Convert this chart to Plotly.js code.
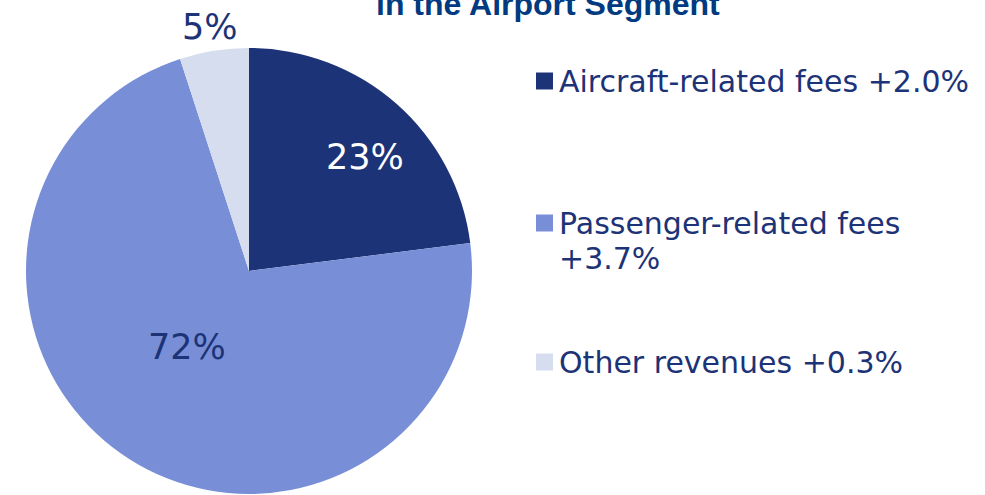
<!DOCTYPE html>
<html>
<head>
<meta charset="utf-8">
<script src="https://cdn.plot.ly/plotly-3.0.1.min.js"></script>
<style>
html,body{margin:0;padding:0;overflow:hidden;background:#fff;}
#chart{width:985px;height:499px;}
</style>
</head>
<body>
<div id="chart"></div>
<script>
const categories = ["Aircraft-related fees", "Passenger-related fees", "Other revenues"];
const shares = [23, 72, 5];
const changes = ["+2.0%", "+3.7%", "+0.3%"];
const sliceLabels = ["23%", "72%", "5%"];
const colors = ["#1d3377", "#788fd7", "#d5ddee"];
const labelColors = ["#ffffff", "#1d3377", "#1d3377"];
const textColor = "#1d3377";
const titleText = "in the Airport Segment";

const W = 985, H = 499;
const px = x => x / W;
const py = y => (H - y) / H;

// pie geometry (pixels)
const CX = 249, CY = 271, R = 223;

const trace = {
  type: "pie",
  labels: categories,
  values: shares,
  textinfo: "none",
  sort: false,
  direction: "clockwise",
  rotation: 0,
  marker: {colors: colors, line: {width: 0}},
  domain: {x: [px(CX - R), px(CX + R)], y: [py(CY + R), py(CY - R)]},
  showlegend: false,
  hoverinfo: "label+percent"
};

const shapes = [];
const annotations = [];

// slice labels placed from the data's mid angles
const labelRadius = [0.73, 0.44, 1.11];
const labelAngleShift = [4, 7, 0];
const total = shares.reduce((a, b) => a + b, 0);
let cum = 0;
for (let i = 0; i < shares.length; i++) {
  const mid = (cum + shares[i] / 2) / total * 360 + labelAngleShift[i];
  cum += shares[i];
  const a = mid * Math.PI / 180;
  const r = R * labelRadius[i];
  annotations.push({
    xref: "paper", yref: "paper",
    x: px(CX + r * Math.sin(a)), y: py(CY - r * Math.cos(a)),
    xanchor: "center", yanchor: "middle",
    text: sliceLabels[i], showarrow: false,
    font: {family: "DejaVu Sans", size: 35, color: labelColors[i]}
  });
}

// custom legend
const legendY = [81, 223, 362];
const legendLines = [
  [categories[0] + " " + changes[0]],
  [categories[1], changes[1]],
  [categories[2] + " " + changes[2]]
];
const lineGap = 35;
for (let i = 0; i < categories.length; i++) {
  shapes.push({
    type: "rect", xref: "paper", yref: "paper",
    x0: px(536), x1: px(553), y0: py(legendY[i] + 8.5), y1: py(legendY[i] - 8.5),
    fillcolor: colors[i], line: {width: 0}
  });
  legendLines[i].forEach((ln, j) => {
    annotations.push({
      xref: "paper", yref: "paper",
      x: px(557), y: py(legendY[i] + j * lineGap),
      xanchor: "left", yanchor: "middle",
      text: ln, showarrow: false, align: "left",
      font: {family: "DejaVu Sans", size: 30, color: textColor}
    });
  });
}
annotations.push({
  xref: "paper", yref: "paper",
  x: px(548), y: py(4), xanchor: "center", yanchor: "middle",
  text: "<b>" + titleText + "</b>", showarrow: false,
  font: {family: "Liberation Sans, Arial", size: 32, color: "#003a80"}
});

Plotly.newPlot("chart", [trace], {
  width: W, height: H,
  margin: {l: 0, r: 0, t: 0, b: 0},
  paper_bgcolor: "#ffffff",
  showlegend: false,
  shapes: shapes,
  annotations: annotations
}, {staticPlot: true});
</script>
</body>
</html>
